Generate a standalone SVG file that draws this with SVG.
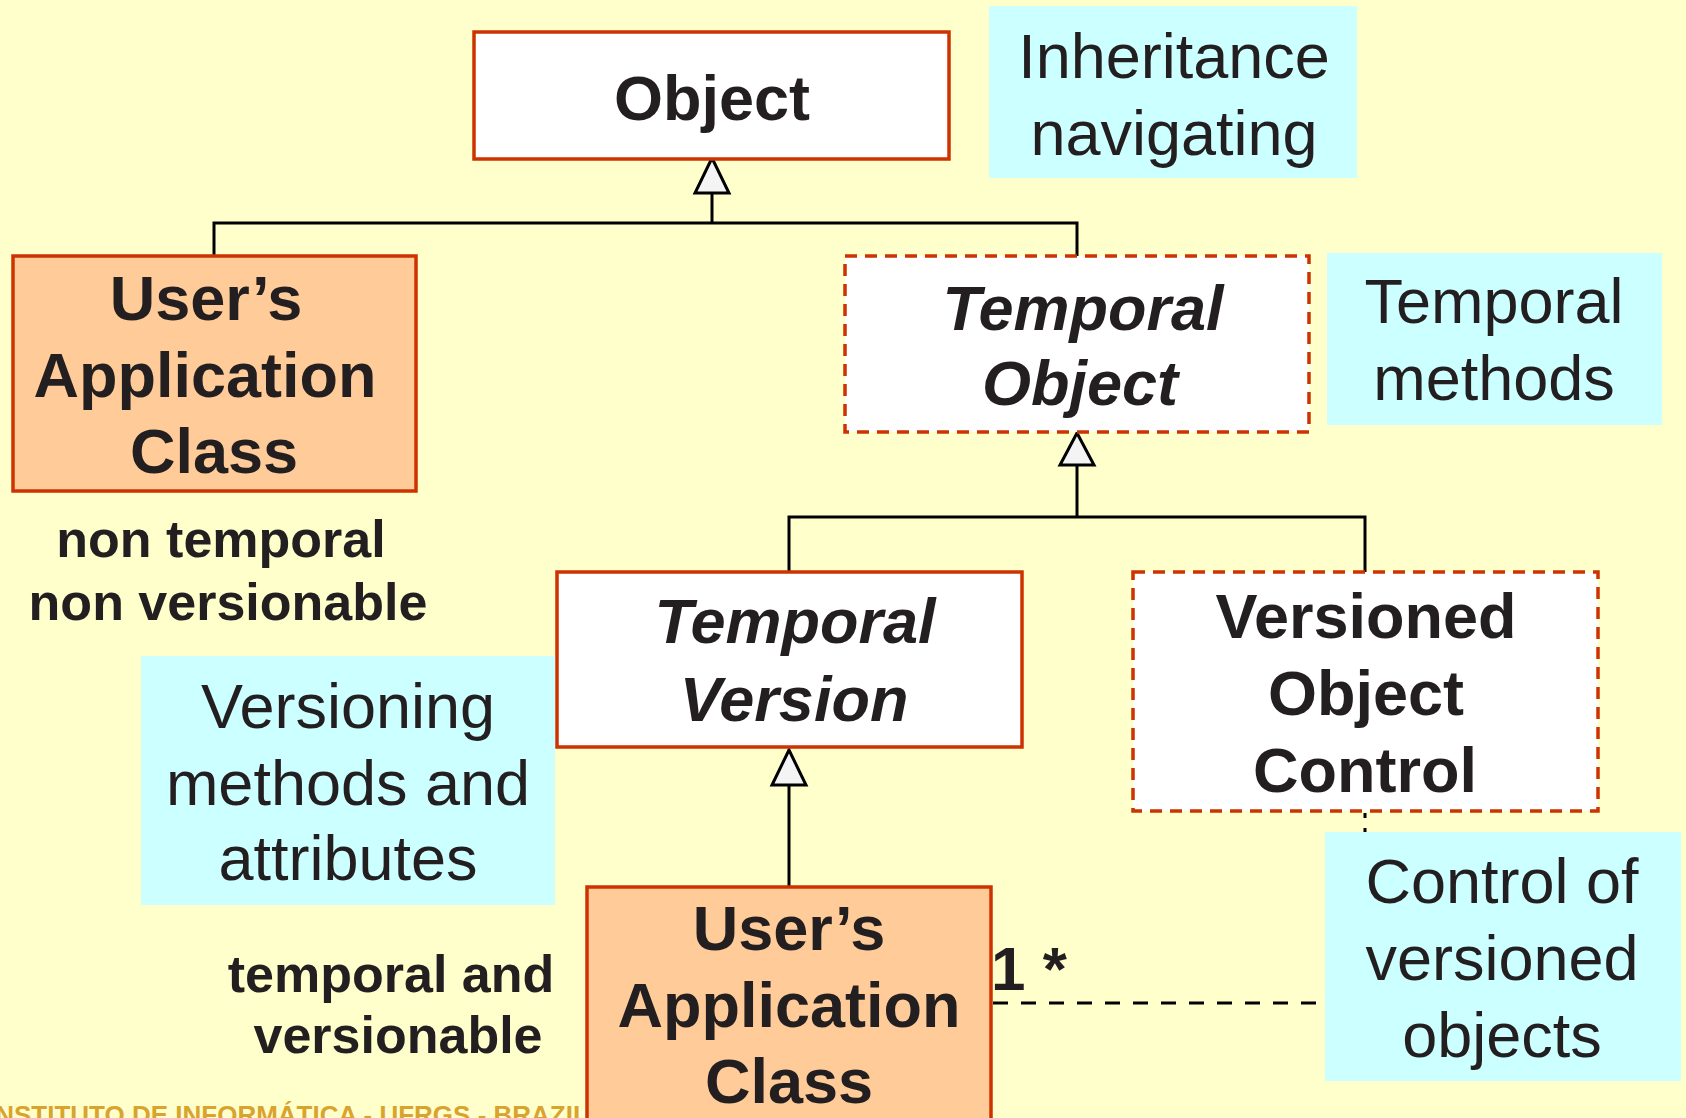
<svg xmlns="http://www.w3.org/2000/svg" width="1686" height="1118" viewBox="0 0 1686 1118">
  <style>
    .bg { fill: #FFFFCC; }
    .cls { stroke: #CC3300; stroke-width: 3.5; }
    .plain { fill: #FFFFFF; }
    .app { fill: #FFCC99; }
    .dash { stroke-dasharray: 12 8; }
    .note { fill: #CCFFFF; }
    .edge { fill: none; stroke: #000000; stroke-width: 3; }
    .assoc { fill: none; stroke: #000000; stroke-width: 3; stroke-dasharray: 15 13; }
    .tri { fill: #F4F4F4; stroke: #000000; stroke-width: 3; stroke-linejoin: miter; }
    text { font-family: "Liberation Sans", Arial, sans-serif; fill: #231F20; text-anchor: middle; }
    .name { font-size: 63px; font-weight: bold; }
    .abs { font-size: 63px; font-weight: bold; font-style: italic; }
    .ntxt { font-size: 63px; }
    .lbl { font-size: 52px; font-weight: bold; }
    .mult { font-size: 62px; font-weight: bold; text-anchor: start; }
    .foot { font-size: 26px; font-weight: bold; fill: #D9A42E; text-anchor: start; }
  </style>

  <rect class="bg" x="0" y="0" width="1686" height="1118"/>

  <!-- footer, partly hidden behind the lower class box -->
  <text class="foot" x="-12" y="1124">INSTITUTO DE INFORMÁTICA - UFRGS - BRAZIL</text>

  <!-- connectors -->
  <g id="connectors">
    <!-- Object <- User's Application Class / Temporal Object -->
    <path class="edge" d="M214,256 V223 H1077 V256"/>
    <path class="edge" d="M712,223 V193"/>
    <polygon class="tri" points="712,158 695,193 729,193"/>
    <!-- Temporal Object <- Temporal Version / Versioned Object Control -->
    <path class="edge" d="M789,572 V517 H1365 V572"/>
    <path class="edge" d="M1077,517 V465"/>
    <polygon class="tri" points="1077,433 1060,465 1094,465"/>
    <!-- Temporal Version <- User's Application Class -->
    <path class="edge" d="M789,887 V785"/>
    <polygon class="tri" points="789,750 772,785 806,785"/>
    <!-- association to Versioned Object Control -->
    <path class="assoc" d="M993,1003 H1365"/>
    <path class="edge" style="stroke-dasharray: 5 10" d="M1365,813 V1003"/>
    <text class="mult" x="991" y="990">1 *</text>
  </g>

  <!-- classes -->
  <g id="object">
    <rect class="cls plain" x="474" y="32" width="475" height="127"/>
    <text class="name" x="712" y="120">Object</text>
  </g>

  <g id="app-class-plain">
    <rect class="cls app" x="13" y="256" width="403" height="235"/>
    <text class="name" x="206" y="320">User’s</text>
    <text class="name" x="205" y="397">Application</text>
    <text class="name" x="214" y="473">Class</text>
  </g>

  <g id="temporal-object">
    <rect class="cls plain dash" x="845" y="256" width="464" height="176"/>
    <text class="abs" x="1083" y="330">Temporal</text>
    <text class="abs" x="1080" y="405">Object</text>
  </g>

  <g id="temporal-version">
    <rect class="cls plain" x="557" y="572" width="465" height="175"/>
    <text class="abs" x="795" y="643">Temporal</text>
    <text class="abs" x="794" y="721">Version</text>
  </g>

  <g id="versioned-object-control">
    <rect class="cls plain dash" x="1133" y="572" width="465" height="239"/>
    <text class="name" x="1366" y="638">Versioned</text>
    <text class="name" x="1366" y="715">Object</text>
    <text class="name" x="1365" y="792">Control</text>
  </g>

  <g id="app-class-versioned">
    <rect class="cls app" x="587" y="887" width="404" height="260"/>
    <text class="name" x="789" y="950">User’s</text>
    <text class="name" x="789" y="1027">Application</text>
    <text class="name" x="789" y="1103">Class</text>
  </g>

  <!-- free labels -->
  <g id="label-non-temporal">
    <text class="lbl" x="221" y="557">non temporal</text>
    <text class="lbl" x="228" y="620">non versionable</text>
  </g>

  <g id="label-temporal">
    <text class="lbl" x="391" y="992">temporal and</text>
    <text class="lbl" x="398" y="1053">versionable</text>
  </g>

  <!-- notes -->
  <g id="note-inheritance">
    <rect class="note" x="989" y="6" width="368" height="172"/>
    <text class="ntxt" x="1174" y="78">Inheritance</text>
    <text class="ntxt" x="1174" y="155">navigating</text>
  </g>

  <g id="note-temporal">
    <rect class="note" x="1327" y="253" width="335" height="172"/>
    <text class="ntxt" x="1494" y="323">Temporal</text>
    <text class="ntxt" x="1494" y="400">methods</text>
  </g>

  <g id="note-versioning">
    <rect class="note" x="141" y="656" width="414" height="249"/>
    <text class="ntxt" x="348" y="728">Versioning</text>
    <text class="ntxt" x="348" y="805">methods and</text>
    <text class="ntxt" x="348" y="880">attributes</text>
  </g>

  <g id="note-control">
    <rect class="note" x="1325" y="832" width="356" height="249"/>
    <text class="ntxt" x="1502" y="903">Control of</text>
    <text class="ntxt" x="1502" y="980">versioned</text>
    <text class="ntxt" x="1502" y="1057">objects</text>
  </g>
</svg>
